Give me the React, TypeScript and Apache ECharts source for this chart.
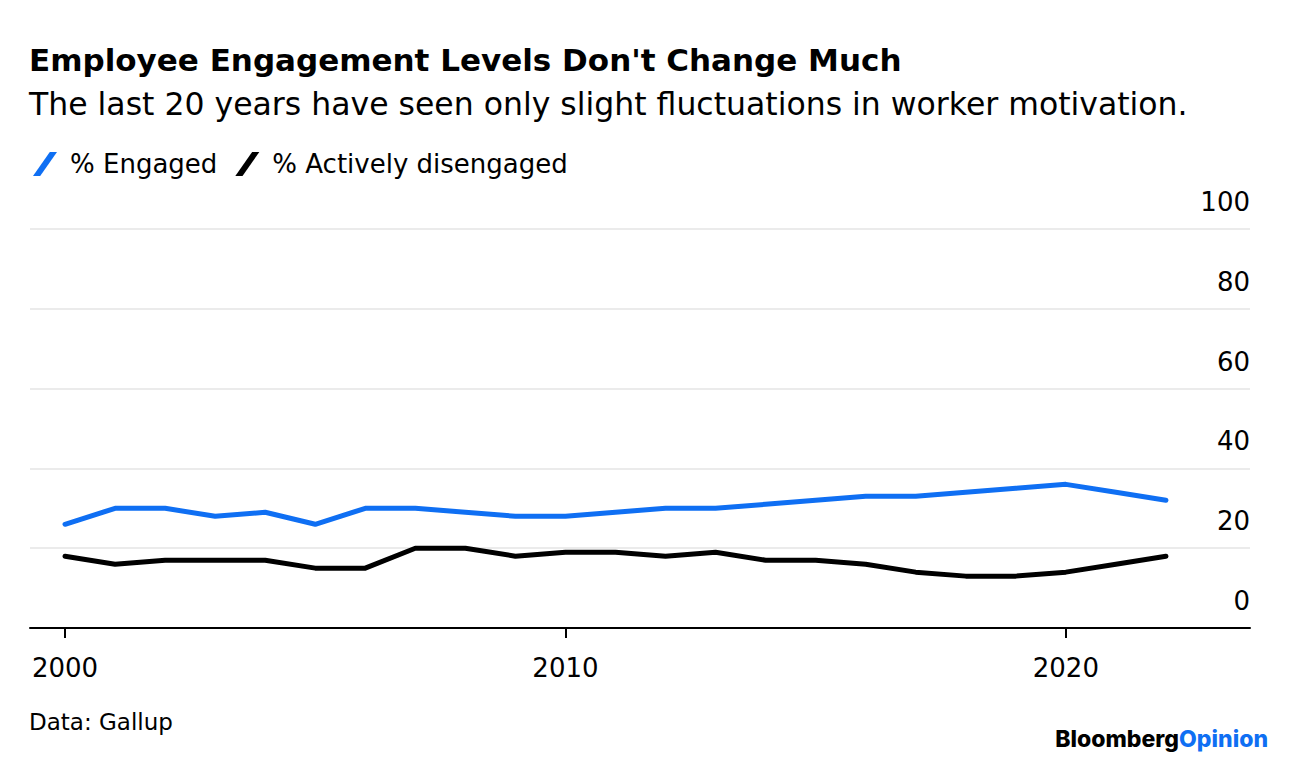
import React, { useEffect, useRef } from "react";
import * as echarts from "echarts";

const years = [2000, 2001, 2002, 2003, 2004, 2005, 2006, 2007, 2008, 2009, 2010, 2011, 2012, 2013, 2014, 2015, 2016, 2017, 2018, 2019, 2020, 2021, 2022];
const engaged = [26, 30, 30, 28, 29, 26, 30, 30, 29, 28, 28, 29, 30, 30, 31, 32, 33, 33, 34, 35, 36, 34, 32];
const disengaged = [18, 16, 17, 17, 17, 15, 15, 20, 20, 18, 19, 19, 18, 19, 17, 17, 16, 14, 13, 13, 14, 16, 18];
const xTicks = [2000, 2010, 2020];
const yTicks = [0, 20, 40, 60, 80, 100];

const TITLE = "Employee Engagement Levels Don't Change Much";
const SUBTITLE = "The last 20 years have seen only slight fluctuations in worker motivation.";
const SOURCE = "Data: Gallup";

const BLUE = "#0f6ff3";
const FONT = "'DejaVu Sans', Inter, sans-serif";
const LOGO_FONT = "Inter, 'DejaVu Sans', sans-serif";
const SLASH = "path://M0,10 L7,0 L10,0 L3,10 Z";

export default function App() {
  const ref = useRef<HTMLDivElement>(null);
  useEffect(() => {
    const chart = echarts.init(ref.current!, null, { renderer: "svg" });
    chart.setOption({
      animation: false,
      backgroundColor: "#ffffff",
      textStyle: { fontFamily: FONT },
      graphic: [
        { type: "text", left: 29, top: 44, style: { text: TITLE, font: `bold 31px ${FONT}`, fill: "#000" } },
        { type: "text", left: 29, top: 88, style: { text: SUBTITLE, font: `31.5px ${FONT}`, fill: "#000" } },
        { type: "text", left: 29, top: 710, style: { text: SOURCE, font: `23px ${FONT}`, fill: "#000" } },
        {
          type: "text", right: 28, top: 727,
          style: {
            text: "{b|Bloomberg}{o|Opinion}",
            rich: {
              b: { fill: "#000", fontWeight: 800, fontSize: 23, fontFamily: LOGO_FONT },
              o: { fill: BLUE, fontWeight: 800, fontSize: 23, fontFamily: LOGO_FONT },
            },
          },
        },
      ],
      legend: {
        left: 28,
        top: 146,
        itemWidth: 24,
        itemHeight: 26,
        itemGap: 18,
        textStyle: { fontSize: 26, color: "#000", fontFamily: FONT, padding: [0, 0, 0, 8] },
        data: [
          { name: "% Engaged", icon: SLASH, itemStyle: { color: BLUE } },
          { name: "% Actively disengaged", icon: SLASH, itemStyle: { color: "#000" } },
        ],
      },
      grid: { left: 30, right: 46, top: 229, bottom: 136, containLabel: false },
      xAxis: {
        type: "value",
        min: 1999.3,
        max: 2023.68,
        splitLine: { show: false },
        axisLine: { show: true, onZero: false, lineStyle: { color: "#000", width: 2 } },
        axisTick: { show: true, customValues: xTicks, length: 10, lineStyle: { color: "#000", width: 2 } },
        axisLabel: { customValues: xTicks, fontSize: 26, color: "#000", fontFamily: FONT, margin: 27, formatter: (v: number) => String(v) },
      },
      yAxis: {
        type: "value",
        position: "right",
        min: 0,
        max: 100,
        interval: 20,
        axisLine: { show: false },
        axisTick: { show: false },
        splitLine: { show: true, lineStyle: { color: "#ebebeb", width: 2 } },
        axisLabel: {
          inside: true,
          margin: 0,
          fontSize: 26,
          color: "#000",
          fontFamily: FONT,
          verticalAlign: "bottom",
          padding: [0, 0, 14, 0],
          customValues: yTicks,
        },
      },
      series: [
        {
          name: "% Engaged",
          type: "line",
          data: years.map((y, i) => [y, engaged[i]]),
          showSymbol: false,
          symbol: "none",
          lineStyle: { color: BLUE, width: 5, cap: "round", join: "round" },
          itemStyle: { color: BLUE },
        },
        {
          name: "% Actively disengaged",
          type: "line",
          data: years.map((y, i) => [y, disengaged[i]]),
          showSymbol: false,
          symbol: "none",
          lineStyle: { color: "#000", width: 5, cap: "round", join: "round" },
          itemStyle: { color: "#000" },
        },
      ],
    });
    return () => chart.dispose();
  }, []);
  return <div ref={ref} style={{ position: "fixed", left: 0, top: 0, width: 1296, height: 764 }} />;
}
